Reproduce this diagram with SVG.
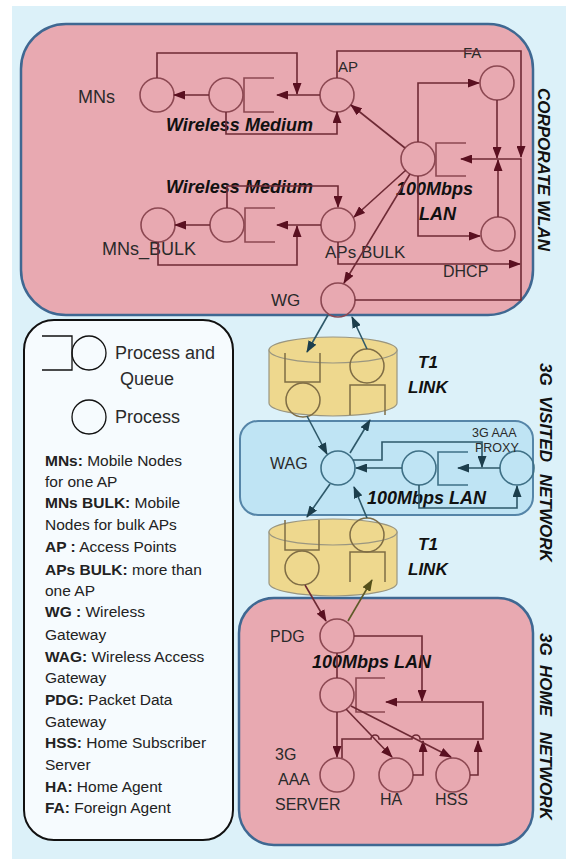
<svg xmlns="http://www.w3.org/2000/svg" width="566" height="859" viewBox="0 0 566 859">
<defs>
<style>
text{font-family:"Liberation Sans",Arial,sans-serif;fill:#2a2a2a}
.bi{font-weight:bold;font-style:italic;fill:#111}
.lb{font-size:16px}
.lg{font-size:15.5px;fill:#222}
.pm{fill:none;stroke:#8c4852;stroke-width:1.6}
.lm{fill:none;stroke:#6e2a35;stroke-width:1.6}
.pt{fill:none;stroke:#3f7086;stroke-width:1.6}
.lt{fill:none;stroke:#2e5869;stroke-width:1.6}
.po{fill:none;stroke:#7f6d45;stroke-width:1.5}
.lo{fill:none;stroke:#5e5a28;stroke-width:1.6}
.pk{fill:#e8a9b1;stroke:#3f6892;stroke-width:2.5}
.cy{fill:#eed88e;stroke:#9a9680;stroke-width:1.2}
.ma{marker-end:url(#am)}
.mt{marker-end:url(#at)}
.mo{marker-end:url(#ao)}
.leg{fill:none;stroke:#111;stroke-width:1.3}
</style>
<marker id="am" viewBox="0 0 12 9" refX="11" refY="4.5" markerWidth="12" markerHeight="9" markerUnits="userSpaceOnUse" orient="auto"><path d="M0,0 L12,4.5 L0,9 z" fill="#5a1020"/></marker>
<marker id="at" viewBox="0 0 12 9" refX="11" refY="4.5" markerWidth="12" markerHeight="9" markerUnits="userSpaceOnUse" orient="auto"><path d="M0,0 L12,4.5 L0,9 z" fill="#1c3e4c"/></marker>
<marker id="ao" viewBox="0 0 12 9" refX="11" refY="4.5" markerWidth="12" markerHeight="9" markerUnits="userSpaceOnUse" orient="auto"><path d="M0,0 L12,4.5 L0,9 z" fill="#55501a"/></marker>
</defs>

<rect width="566" height="859" fill="#ffffff"/>
<rect x="12" y="6" width="554" height="853" fill="#dcf1f9"/>

<!-- region boxes -->
<g id="corporate-wlan">
<rect class="pk" x="21" y="24" width="512" height="291" rx="45"/>
<text class="bi" font-size="17" transform="translate(538,88) rotate(90)">CORPORATE WLAN</text>
</g>
<g id="visited-network">
<rect x="240" y="421" width="293" height="94" rx="18" fill="#bfe4f4" stroke="#5585a8" stroke-width="2"/>
<text class="bi" font-size="17" transform="translate(540,363) rotate(90)">3G</text>
<text class="bi" font-size="17" transform="translate(540,396) rotate(90)">VISITED</text>
<text class="bi" font-size="17" transform="translate(540,474) rotate(90)">NETWORK</text>
</g>
<g id="home-network">
<rect class="pk" x="239" y="598" width="294" height="247" rx="35"/>
<text class="bi" font-size="17" transform="translate(540,633) rotate(90)">3G</text>
<text class="bi" font-size="17" transform="translate(540,665) rotate(90)">HOME</text>
<text class="bi" font-size="17" transform="translate(540,732) rotate(90)">NETWORK</text>
</g>

<!-- legend -->
<g id="legend">
<rect x="24" y="320" width="209" height="520" rx="30" fill="#f6fbfe" stroke="#111" stroke-width="2"/>
<path class="leg" d="M42,336 H72 V370 H42"/>
<circle class="leg" cx="89" cy="353" r="17"/>
<text x="115" y="359" font-size="18" fill="#222">Process and</text>
<text x="120" y="385" font-size="18" fill="#222">Queue</text>
<circle class="leg" cx="89" cy="417" r="17"/>
<text x="115" y="423" font-size="18" fill="#222">Process</text>
<text class="lg" x="45" y="466"><tspan font-weight="bold">MNs:</tspan> Mobile Nodes</text>
<text class="lg" x="45" y="487">for one AP</text>
<text class="lg" x="45" y="508"><tspan font-weight="bold">MNs BULK:</tspan> Mobile</text>
<text class="lg" x="45" y="530">Nodes for bulk  APs</text>
<text class="lg" x="45" y="552"><tspan font-weight="bold">AP :</tspan> Access Points</text>
<text class="lg" x="45" y="575"><tspan font-weight="bold">APs BULK:</tspan> more than</text>
<text class="lg" x="45" y="596">one AP</text>
<text class="lg" x="45" y="617"><tspan font-weight="bold">WG :</tspan> Wireless</text>
<text class="lg" x="45" y="640">Gateway</text>
<text class="lg" x="45" y="662"><tspan font-weight="bold">WAG:</tspan> Wireless Access</text>
<text class="lg" x="45" y="683">Gateway</text>
<text class="lg" x="45" y="705"><tspan font-weight="bold">PDG:</tspan> Packet Data</text>
<text class="lg" x="45" y="727">Gateway</text>
<text class="lg" x="45" y="748"><tspan font-weight="bold">HSS:</tspan> Home Subscriber</text>
<text class="lg" x="45" y="770">Server</text>
<text class="lg" x="45" y="792"><tspan font-weight="bold">HA:</tspan> Home Agent</text>
<text class="lg" x="45" y="813"><tspan font-weight="bold">FA:</tspan> Foreign Agent</text>
</g>

<!-- T1 links -->
<g id="t1-link-1">
<path class="cy" d="M269,350 V403 A64,13 0 0 0 397,403 V350 Z"/>
<ellipse class="cy" cx="333" cy="350" rx="64" ry="13"/>
<path class="po" d="M285,353 V382 H320 V353"/>
<circle class="po" cx="303" cy="400" r="17"/>
<circle class="po" cx="367" cy="366" r="17"/>
<path class="po" d="M350,415 V385 H385 V415"/>
<text class="bi" font-size="17" x="418" y="368">T1</text>
<text class="bi" font-size="17" x="408" y="393">LINK</text>
</g>
<g id="t1-link-2">
<path class="cy" d="M269,532 V583 A64,13 0 0 0 397,583 V532 Z"/>
<ellipse class="cy" cx="333" cy="532" rx="64" ry="13"/>
<path class="po" d="M285,520 V550 H319 V520"/>
<circle class="po" cx="302" cy="568" r="17"/>
<circle class="po" cx="367" cy="535" r="17"/>
<path class="po" d="M350,582 V552 H385 V582"/>
<text class="bi" font-size="17" x="418" y="550">T1</text>
<text class="bi" font-size="17" x="408" y="575">LINK</text>
</g>

<!-- corporate nodes -->
<g id="MNs"><circle class="pm" cx="157" cy="95" r="17"/><text x="78" y="103" font-size="18">MNs</text></g>
<g id="wm1"><circle class="pm" cx="226" cy="95" r="17"/><path class="pm" d="M274,78 H244 V112 H274"/><text class="bi" font-size="18" x="166" y="131">Wireless Medium</text></g>
<g id="AP"><circle class="pm" cx="337" cy="95" r="17"/><text x="338" y="72" font-size="15">AP</text></g>
<g id="FA"><circle class="pm" cx="497" cy="83" r="17"/><text x="463" y="58" font-size="15">FA</text></g>
<g id="LAN1"><circle class="pm" cx="418" cy="159" r="17"/><path class="pm" d="M466,143 H436 V176 H466"/><text class="bi" font-size="18" x="396" y="195">100Mbps</text><text class="bi" font-size="18" x="419" y="220">LAN</text></g>
<g id="DHCP"><circle class="pm" cx="498" cy="234" r="17"/><text x="443" y="277" font-size="16">DHCP</text></g>
<g id="MNs_BULK"><circle class="pm" cx="158" cy="225" r="17"/><text x="102" y="255" font-size="18">MNs_BULK</text></g>
<g id="wm2"><circle class="pm" cx="227" cy="225" r="17"/><path class="pm" d="M275,208 H245 V242 H275"/><text class="bi" font-size="18" x="166" y="193">Wireless Medium</text></g>
<g id="APs_BULK"><circle class="pm" cx="338" cy="225" r="17"/><text x="325" y="258" font-size="17">APs BULK</text></g>
<g id="WG"><circle class="pm" cx="338" cy="300" r="17"/><text x="271" y="306" font-size="17">WG</text></g>

<!-- visited nodes -->
<g id="WAG"><circle class="pt" cx="338" cy="468" r="17"/><text x="270" y="469" font-size="16">WAG</text></g>
<g id="LAN2"><circle class="pt" cx="419" cy="468" r="17"/><path class="pt" d="M468,452 H438 V485 H468"/><text class="bi" font-size="18" x="367" y="504">100Mbps LAN</text></g>
<g id="AAA_PROXY"><circle class="pt" cx="517" cy="468" r="17"/><text x="472" y="437" font-size="12.5" fill="#4a585e">3G AAA</text><text x="475" y="452" font-size="12.5" fill="#4a585e">PROXY</text></g>

<!-- home nodes -->
<g id="PDG"><circle class="pm" cx="337" cy="636" r="17"/><text x="270" y="642" font-size="16">PDG</text></g>
<g id="LAN3"><circle class="pm" cx="337" cy="695" r="17"/><path class="pm" d="M385,678 H356 V712 H385"/><text class="bi" font-size="18" x="312" y="668">100Mbps LAN</text></g>
<g id="AAA_SERVER"><circle class="pm" cx="337" cy="775" r="17"/><text x="275" y="760" font-size="16">3G</text><text x="278" y="785" font-size="16">AAA</text><text x="275" y="810" font-size="16">SERVER</text></g>
<g id="HA"><circle class="pm" cx="396" cy="775" r="17"/><text x="380" y="805" font-size="16">HA</text></g>
<g id="HSS"><circle class="pm" cx="453" cy="775" r="17"/><text x="435" y="805" font-size="16">HSS</text></g>

<!-- connectors -->
<g id="connectors">
<path class="lm ma" d="M209,95 H174"/>
<path class="lm ma" d="M157,78 V53 H297 V94"/>
<path class="lm ma" d="M320,95 H277"/>
<path class="lm ma" d="M226,112 V134 H337 V112"/>
<path class="lm ma" d="M337,78 V51 H521 V157"/>
<path class="lm ma" d="M210,225 H175"/>
<path class="lm ma" d="M158,242 V265 H297 V226"/>
<path class="lm ma" d="M321,225 H277"/>
<path class="lm ma" d="M227,208 V186 H338 V207"/>
<path class="lm ma" d="M338,242 V264 H520"/>
<path class="lm ma" d="M418,142 V83 H479"/>
<path class="lm ma" d="M497,100 V158"/>
<path class="lm ma" d="M498,217 V160"/>
<path class="lm ma" d="M355,300 H521 V159 H461"/>
<path class="lm ma" d="M418,176 V236 H480"/>
<path class="lm ma" d="M405,148 L351,105"/>
<path class="lm ma" d="M406,170 L354,217"/>
<path class="lm ma" d="M410,174 L344,283"/>

<path class="lt mt" d="M328,315 L307,352"/>
<path class="lt mt" d="M367,349 L352,317"/>
<path class="lt mt" d="M307,416 L327,454"/>
<path class="lt mt" d="M350,453 L370,420"/>
<path class="lt mt" d="M330,484 L307,517"/>
<path class="lt mt" d="M367,518 L354,487"/>
<path class="lm ma" d="M305,585 L326,621"/>
<path class="lo mo" d="M348,621 L372,580"/>

<path class="lt mt" d="M402,468 H356"/>
<path class="lt mt" d="M500,468 H458"/>
<path class="lt mt" d="M353,460 H382 V442 H482 V467"/>
<path class="lt mt" d="M419,485 V508 H517 V486"/>

<path class="lm ma" d="M354,636 H422 V701"/>
<path class="lm" d="M337,653 V678"/>
<path class="lm ma" d="M342,758 V739 H371 a4,4 0 0 1 8,0 H412 a4,4 0 0 1 8,0 H483 V702 H386"/>
<path class="lm ma" d="M413,775 H423 V741"/>
<path class="lm ma" d="M470,775 H478 V741"/>
<path class="lm ma" d="M337,712 V757"/>
<path class="lm ma" d="M346,709 L392,757"/>
<path class="lm ma" d="M351,706 L451,757"/>
</g>
</svg>
